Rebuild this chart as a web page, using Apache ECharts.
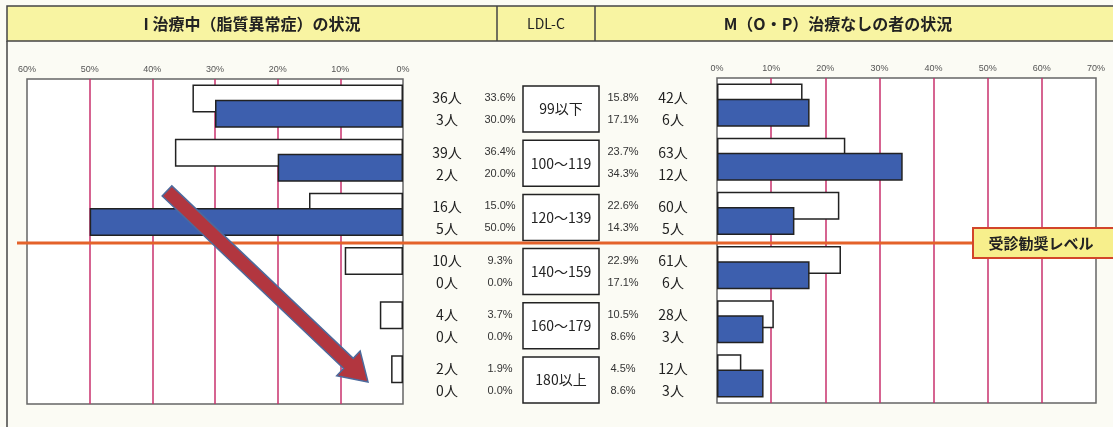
<!DOCTYPE html>
<html>
<head>
<meta charset="utf-8">
<script src="https://cdn.jsdelivr.net/npm/echarts@6/dist/echarts.min.js"></script>
<style>
  html, body { margin: 0; padding: 0; background: #fbfbf4; }
  #chart { width: 1113px; height: 427px; }
</style>
</head>
<body>
<div id="chart"></div>
<script>
// LDL-C bands (one row per band, top to bottom)
const ldlBands = ['99以下', '100～119', '120～139', '140～159', '160～179', '180以上'];

// I: under treatment (dyslipidemia) — counts and shares
const treatAllCount = [36, 39, 16, 10, 4, 2];
const treatAllPct   = [33.6, 36.4, 15.0, 9.3, 3.7, 1.9];
const treatSubCount = [3, 2, 5, 0, 0, 0];
const treatSubPct   = [30.0, 20.0, 50.0, 0.0, 0.0, 0.0];

// M (O・P): no treatment — counts and shares
const noTreatAllPct   = [15.8, 23.7, 22.6, 22.9, 10.5, 4.5];
const noTreatAllCount = [42, 63, 60, 61, 28, 12];
const noTreatSubPct   = [17.1, 34.3, 14.3, 17.1, 8.6, 8.6];
const noTreatSubCount = [6, 12, 5, 6, 3, 3];

// Header texts
const titleLeft = 'I 治療中（脂質異常症）の状況';
const titleMid = 'LDL-C';
const titleRight = 'M（O・P）治療なしの者の状況';
const levelLabel = '受診勧奨レベル';
const levelAfterIndex = 3; // line drawn above the 140～159 band

// ---- layout ----
const PLOT_TOP = 79, PLOT_H = 325;
const LEFT_X = 27, LEFT_W = 376;
const MID_X = 410, MID_W = 300;
const RIGHT_X = 717, RIGHT_W = 379;

const CJK = '"Noto Sans CJK JP", "Noto Sans", sans-serif';
const NARROW = '"Liberation Sans Narrow", "Arial Narrow", "Liberation Sans", sans-serif';
const PINK = '#c8306c';
const BLUE = '#3d5fae';
const INK = '#222';

const nullZero = arr => arr.map(v => (v === 0 ? null : v));
const pct = v => v.toFixed(1) + '%';

function valueAxis(gridIndex, max, inverse) {
  return {
    type: 'value', gridIndex, min: 0, max, interval: 10, inverse,
    position: 'top',
    axisLine: { show: false }, axisTick: { show: false },
    axisLabel: { formatter: '{value}%', fontSize: 9, fontFamily: NARROW, color: '#555', margin: 5 },
    splitLine: { show: true, showMinLine: false, showMaxLine: false, lineStyle: { color: PINK, width: 1.5 } }
  };
}
function bandAxis(gridIndex) {
  return { type: 'category', gridIndex, data: ldlBands, inverse: true, show: false };
}
function barPair(axisIndex, allPct, subPct) {
  const common = { type: 'bar', xAxisIndex: axisIndex, yAxisIndex: axisIndex, barWidth: 28, barGap: '-46%', silent: true };
  return [
    Object.assign({}, common, { name: 'all' + axisIndex, data: nullZero(allPct), z: 2,
      itemStyle: { color: '#fff', borderColor: INK, borderWidth: 1.5 } }),
    Object.assign({}, common, { name: 'sub' + axisIndex, data: nullZero(subPct), z: 3,
      itemStyle: { color: BLUE, borderColor: INK, borderWidth: 1.5 } })
  ];
}

// Arrow polygon from tail to tip
function arrowPoints(tail, tip, shaftHalf, headHalf, headLen) {
  const dx = tip[0] - tail[0], dy = tip[1] - tail[1];
  const len = Math.hypot(dx, dy);
  const ux = dx / len, uy = dy / len, nx = -uy, ny = ux;
  const neck = [tip[0] - ux * headLen, tip[1] - uy * headLen];
  const p = (b, s) => [b[0] + nx * s, b[1] + ny * s];
  return [p(tail, shaftHalf), p(neck, shaftHalf), p(neck, headHalf), tip,
          p(neck, -headHalf), p(neck, -shaftHalf), p(tail, -shaftHalf)];
}

const levelY = PLOT_TOP + PLOT_H * levelAfterIndex / ldlBands.length + 1.5;

const chart = echarts.init(document.getElementById('chart'), null, { renderer: 'canvas' });
chart.setOption({
  animation: false,
  backgroundColor: '#fbfbf4',
  grid: [
    { left: LEFT_X, top: PLOT_TOP, width: LEFT_W, height: PLOT_H, show: true, backgroundColor: '#fff', borderColor: '#666', borderWidth: 1.5 },
    { left: MID_X, top: PLOT_TOP, width: MID_W, height: PLOT_H, show: false },
    { left: RIGHT_X, top: PLOT_TOP - 1, width: RIGHT_W, height: PLOT_H, show: true, backgroundColor: '#fff', borderColor: '#666', borderWidth: 1.5 }
  ],
  xAxis: [
    valueAxis(0, 60, true),
    { type: 'value', gridIndex: 1, min: 0, max: MID_W, show: false },
    valueAxis(2, 70, false)
  ],
  yAxis: [bandAxis(0), bandAxis(1), bandAxis(2)],
  series: [
    ...barPair(0, treatAllPct, treatSubPct),
    ...barPair(2, noTreatAllPct, noTreatSubPct),
    {
      type: 'custom', xAxisIndex: 1, yAxisIndex: 1, silent: true,
      data: ldlBands.map((b, i) => [0, i]),
      encode: { x: 0, y: 1 },
      renderItem(params, api) {
        const i = api.value(1);
        const c = api.coord([0, i]);
        const x0 = c[0], y = c[1] + 3;
        const up = y - 11, dn = y + 11;
        const t = (text, x, yy, font, fill) => ({
          type: 'text',
          style: { text, x, y: yy, align: 'center', verticalAlign: 'middle', font, fill: fill || INK }
        });
        const big = '14px ' + CJK;
        const small = '11px ' + NARROW;
        return {
          type: 'group',
          children: [
            t(treatAllCount[i] + '人', x0 + 37, up, big),
            t(treatSubCount[i] + '人', x0 + 37, dn, big),
            t(pct(treatAllPct[i]), x0 + 90, up, small, '#333'),
            t(pct(treatSubPct[i]), x0 + 90, dn, small, '#333'),
            { type: 'rect', shape: { x: x0 + 113, y: y - 23, width: 76, height: 46 },
              style: { fill: '#fff', stroke: INK, lineWidth: 1.5 } },
            t(ldlBands[i], x0 + 151, y, '14px ' + CJK),
            t(pct(noTreatAllPct[i]), x0 + 213, up, small, '#333'),
            t(pct(noTreatSubPct[i]), x0 + 213, dn, small, '#333'),
            t(noTreatAllCount[i] + '人', x0 + 263, up, big),
            t(noTreatSubCount[i] + '人', x0 + 263, dn, big)
          ]
        };
      }
    }
  ],
  graphic: [
    // header band
    { type: 'rect', z: 1, shape: { x: 7, y: 6, width: 1120, height: 35 },
      style: { fill: '#f8f4a2', stroke: '#444', lineWidth: 1.5 } },
    { type: 'line', z: 1, shape: { x1: 497, y1: 6, x2: 497, y2: 41 }, style: { stroke: '#444', lineWidth: 1.5 } },
    { type: 'line', z: 1, shape: { x1: 595, y1: 6, x2: 595, y2: 41 }, style: { stroke: '#444', lineWidth: 1.5 } },
    { type: 'line', z: 1, shape: { x1: 7, y1: 41, x2: 7, y2: 427 }, style: { stroke: '#444', lineWidth: 1.5 } },
    { type: 'text', z: 2, style: { text: titleLeft, x: 252, y: 24, align: 'center', verticalAlign: 'middle',
      font: 'bold 16px ' + CJK, fill: INK } },
    { type: 'text', z: 2, style: { text: titleMid, x: 546, y: 24, align: 'center', verticalAlign: 'middle',
      font: '14px ' + CJK, fill: INK } },
    { type: 'text', z: 2, style: { text: titleRight, x: 838, y: 24, align: 'center', verticalAlign: 'middle',
      font: 'bold 16px ' + CJK, fill: INK } },
    // referral threshold line
    { type: 'line', z: 10, shape: { x1: 17, y1: levelY, x2: 975, y2: levelY },
      style: { stroke: '#e4622a', lineWidth: 3 } },
    { type: 'rect', z: 11, shape: { x: 973, y: levelY - 15, width: 150, height: 30 },
      style: { fill: '#f7ef8c', stroke: '#d2452a', lineWidth: 2 } },
    { type: 'text', z: 12, style: { text: levelLabel, x: 1041, y: levelY, align: 'center', verticalAlign: 'middle',
      font: 'bold 15px ' + CJK, fill: INK } },
    // downward trend arrow
    { type: 'polygon', z: 20, shape: { points: arrowPoints([167, 191], [368, 382], 7, 17, 27) },
      style: { fill: '#b2363f', stroke: '#4d6a9c', lineWidth: 1.5 } }
  ]
});
</script>
</body>
</html>
